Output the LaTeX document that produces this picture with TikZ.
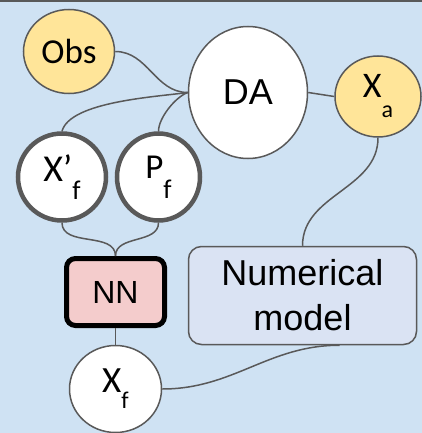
\documentclass[tikz,border=0pt]{standalone}
\usepackage{fontspec}
\setmainfont{Liberation Sans}
\newfontfamily\calfont{Carlito}
\usetikzlibrary{shapes.geometric}
\definecolor{bgblue}{HTML}{CFE2F3}
\definecolor{ylw}{HTML}{FFE599}
\definecolor{edgegray}{HTML}{595959}
\definecolor{nnpink}{HTML}{F4CCCC}
\definecolor{nmblue}{HTML}{DAE3F3}
\tikzset{
  thinell/.style={ellipse, draw=edgegray, line width=1.5pt, inner sep=0pt, fill=white},
  thickell/.style={ellipse, draw=edgegray, line width=4.5pt, inner sep=0pt, fill=white},
  conn/.style={draw=edgegray, line width=1.5pt},
}
\begin{document}
\begin{tikzpicture}[x=1pt,y=-1pt]
\fill[bgblue] (0,0) rectangle (422,433);
\useasboundingbox (0,0) rectangle (422,433);
\fill[edgegray] (0,0) rectangle (422,2.2);

\node[thinell, fill=ylw, minimum width=91pt, minimum height=84pt] (obs) at (69,51.5)
  {\calfont\fontsize{35}{40}\selectfont Obs};
\node[thinell, minimum width=119pt, minimum height=132pt] (da) at (248,92.5)
  {\fontsize{36}{40}\selectfont DA};
\node[thinell, fill=ylw, minimum width=86pt, minimum height=81pt] (xa) at (378,96.5)
  {\calfont\fontsize{36}{40}\selectfont X\raisebox{-20pt}{\fontsize{24}{24}\selectfont a}};
\node[thickell, minimum width=88pt, minimum height=87pt] (xpf) at (62,177)
  {\calfont\fontsize{38}{40}\selectfont X’\raisebox{-18pt}{\fontsize{27}{27}\selectfont f}};
\node[thickell, minimum width=83pt, minimum height=87pt] (pf) at (158.5,177)
  {\calfont\fontsize{35}{40}\selectfont P\raisebox{-20pt}{\fontsize{27}{27}\selectfont f}};
\node[draw=black, line width=5pt, fill=nnpink, rounded corners=9pt,
      minimum width=98pt, minimum height=67pt, inner sep=0pt,
      font=\fontsize{32}{36}\selectfont] (nn) at (115.5,292) {NN};
\node[draw=edgegray, line width=1.5pt, fill=nmblue, rounded corners=13pt,
      minimum width=228pt, minimum height=98pt, inner sep=0pt, align=center,
      font=\fontsize{36}{45}\selectfont] (nm) at (302.5,295.5) {Numerical\\model};
\node[thinell, minimum width=92pt, minimum height=87pt] (xf) at (115.5,389)
  {\calfont\fontsize{37}{40}\selectfont X\raisebox{-16pt}{\fontsize{24}{24}\selectfont f}};

\coordinate (nmb) at ([xshift=37pt]nm.south);

\draw[conn] (obs.east) to[out=0,in=180] (da.west);
\draw[conn] (xpf.north) to[out=75,in=188,looseness=0.6] (da.west);
\draw[conn] (pf.north) to[out=90,in=200,looseness=0.7] (da.west);
\draw[conn] (da.east) -- (xa.west);
\draw[conn] (xa.south) to[out=-90,in=90] (nm.north);
\draw[conn] (xpf.south) to[out=-90,in=90] (nn.north);
\draw[conn] (pf.south) to[out=-90,in=90] (nn.north);
\draw[conn] (nn.south) -- (xf.north);
\draw[conn] (xf.east) to[out=0,in=180] (nmb);
\end{tikzpicture}
\end{document}
